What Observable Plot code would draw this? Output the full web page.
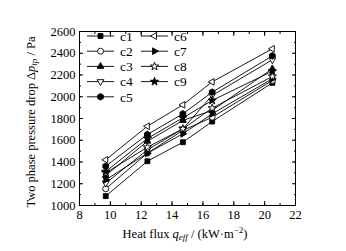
<!DOCTYPE html>
<html><head><meta charset="utf-8">
<script src="https://cdn.jsdelivr.net/npm/d3@7"></script>
<script src="https://cdn.jsdelivr.net/npm/@observablehq/plot@0.6"></script>
<style>body{margin:0;background:#fff}</style>
</head><body><div id="chart"></div>
<script>
const heatFlux = [9.7, 12.4, 14.7, 16.6, 20.5];
const seriesNames = ["c1","c2","c3","c4","c5","c6","c7","c8","c9"];
const c1 = [1086, 1407, 1582, 1772, 2128];
const c2 = [1154, 1481, 1690, 1812, 2150];
const c3 = [1276, 1591, 1782, 1874, 2257];
const c4 = [1205, 1512, 1705, 2012, 2340];
const c5 = [1361, 1653, 1843, 2042, 2376];
const c6 = [1420, 1729, 1926, 2137, 2441];
const c7 = [1236, 1481, 1659, 1843, 2165];
const c8 = [1300, 1536, 1705, 1895, 2186];
const c9 = [1313, 1616, 1806, 1966, 2235];
const seriesValues = [c1,c2,c3,c4,c5,c6,c7,c8,c9];
const xTicks = [8,10,12,14,16,18,20,22];
const yTicks = [1000,1200,1400,1600,1800,2000,2200,2400,2600];
const xMinor = d3.range(8, 22.01, 1);
const yMinor = d3.range(1000, 2601, 100);

function poly(anglesDeg, scale) {
  return {draw(ctx, size) {
    const R = Math.sqrt(size / Math.PI) * scale;
    anglesDeg.forEach((a, i) => {
      const t = a * Math.PI / 180, x = R * Math.sin(t), y = -R * Math.cos(t);
      i ? ctx.lineTo(x, y) : ctx.moveTo(x, y);
    });
    ctx.closePath();
  }};
}
const triUp = poly([0,120,240], 1.3), triDown = poly([180,300,60], 1.3);
const triLeft = poly([270,30,150], 1.3), triRight = poly([90,210,330], 1.3);
const hexagon = poly([0,60,120,180,240,300], 1.1);
const squareS = poly([45,135,225,315], 1.15);
const circleS = {draw(ctx, size){ const r = Math.sqrt(size/Math.PI); ctx.moveTo(r,0); ctx.arc(0,0,r,0,2*Math.PI); }};
const starS = {draw(ctx, size){ d3.symbolStar.draw(ctx, size*0.75); }};
const symbols = [squareS, circleS, triUp, triDown, hexagon, triLeft, triRight, starS, starS];
const fills = ["black","white","black","white","black","white","black","white","black"];

const rows = [];
seriesNames.forEach((s, k) => heatFlux.forEach((x, i) => rows.push({series: s, k, x, y: seriesValues[k][i]})));

const R = 3;
const marks = [
  Plot.frame({stroke: "black", strokeWidth: 1}),
  Plot.axisX({ticks: xTicks, tickSize: 0, tickPadding: 5, tickFormat: d => String(d), label: null}),
  Plot.axisX({ticks: xTicks, tickSize: -4, tickFormat: () => "", label: null}),
  Plot.axisX({ticks: xMinor, tickSize: -2, tickFormat: () => "", label: null}),
  Plot.axisX({anchor: "top", ticks: xTicks, tickSize: -4, tickFormat: () => "", label: null}),
  Plot.axisX({anchor: "top", ticks: xMinor, tickSize: -2, tickFormat: () => "", label: null}),
  Plot.axisY({ticks: yTicks, tickSize: 0, tickPadding: 4, tickFormat: d => String(d), label: null}),
  Plot.axisY({ticks: yTicks, tickSize: -4, tickFormat: () => "", label: null}),
  Plot.axisY({ticks: yMinor, tickSize: -2, tickFormat: () => "", label: null}),
  Plot.axisY({anchor: "right", ticks: yTicks, tickSize: -4, tickFormat: () => "", label: null}),
  Plot.axisY({anchor: "right", ticks: yMinor, tickSize: -2, tickFormat: () => "", label: null}),
  Plot.line(rows, {x: "x", y: "y", z: "series", stroke: "black", strokeWidth: 0.9})
];
seriesNames.forEach((s, k) => {
  marks.push(Plot.dot(rows.filter(d => d.k === k), {x: "x", y: "y", r: R, symbol: symbols[k], fill: fills[k], stroke: "black", strokeWidth: 0.9}));
});

const chart = Plot.plot({
  width: 346, height: 251,
  marginLeft: 79, marginRight: 51, marginTop: 31, marginBottom: 46,
  x: {domain: [8, 22]},
  y: {domain: [1000, 2600]},
  style: {fontFamily: "'Liberation Serif', 'Times New Roman', serif", fontSize: "12.5px", color: "black", background: "white"},
  marks
});
document.getElementById("chart").append(chart);

const svg = d3.select(chart);
const fontCss = "font-family:'Liberation Serif','Times New Roman',serif;";
// legend
const leg = svg.append("g").attr("style", fontCss + "font-size:13.5px").attr("text-anchor", "start");
seriesNames.forEach((s, k) => {
  const col = k < 5 ? 0 : 1, row = k < 5 ? k : k - 5;
  const x0 = col ? 141 : 87, y0 = 36 + row * 15.2;
  const g = leg.append("g").attr("transform", `translate(${x0},${y0})`);
  g.append("line").attr("x1", 0).attr("x2", 27).attr("stroke", "black").attr("stroke-width", 0.9);
  g.append("path").attr("transform", "translate(13.5,0)")
    .attr("d", d3.symbol(symbols[k], R * R * Math.PI)())
    .attr("fill", fills[k]).attr("stroke", "black").attr("stroke-width", 0.9);
  g.append("text").attr("x", 33).attr("y", 0).attr("dy", "0.35em").attr("fill", "black").text(s);
});
// axis titles
const xt = svg.append("text").attr("style", fontCss + "font-size:12.5px")
  .attr("x", 185).attr("y", 238).attr("text-anchor", "middle").attr("fill", "black");
xt.append("tspan").text("Heat flux ");
xt.append("tspan").attr("font-style", "italic").text("q");
xt.append("tspan").attr("font-style", "italic").attr("font-size", "9px").attr("dy", "2").text("eff");
xt.append("tspan").attr("dy", "-2").text(" / (kW·m");
xt.append("tspan").attr("font-size", "9px").attr("dy", "-5").text("−2");
xt.append("tspan").attr("dy", "5").text(")");
const yt = svg.append("text").attr("style", fontCss + "font-size:12.5px")
  .attr("transform", "translate(35,122) rotate(-90)").attr("text-anchor", "middle").attr("fill", "black");
yt.append("tspan").text("Two phase pressure drop Δ");
yt.append("tspan").attr("font-style", "italic").text("p");
yt.append("tspan").attr("font-style", "italic").attr("font-size", "9px").attr("dy", "2").text("tp");
yt.append("tspan").attr("dy", "-2").text(" / Pa");
</script></body></html>
